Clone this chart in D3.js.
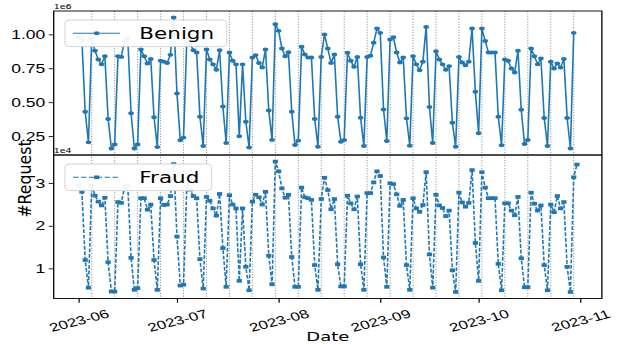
<!DOCTYPE html>
<html>
<head>
<meta charset="utf-8">
<script src="https://cdn.jsdelivr.net/npm/d3@7"></script>
<style>
  html, body { margin: 0; padding: 0; background: #fff; }
  svg { display: block; font-family: "DejaVu Sans", sans-serif; }
</style>
</head>
<body>
<div id="chart"></div>
<script>
// one value per day, starting 2023-06-01
const startDate = "2023-06-01";

// Benign requests per day (x1e6), 2023-06-01 .. 2023-10-30
const benign = [
  0.98, 0.96, 0.43, 0.205, 0.97, 0.88, 0.816, 0.78, 0.84, 0.377,
  0.16, 0.19, 0.84, 0.835, 0.95, 0.97, 0.42, 0.16, 0.19, 0.89,
  0.84, 0.786, 0.82, 0.39, 0.17, 0.806, 0.80, 0.79, 0.85, 1.125,
  0.566, 0.22, 0.24, 0.96, 0.93, 0.884, 0.867, 0.394, 0.178, 0.89,
  0.816, 0.78, 0.74, 0.884, 0.47, 0.20, 0.867, 0.806, 0.78, 0.25,
  0.78, 0.357, 0.167, 0.83, 0.848, 0.79, 0.757, 0.89, 0.44, 0.223,
  1.076, 1.027, 0.897, 0.84, 0.87, 0.43, 0.185, 0.218, 0.91, 0.853,
  0.83, 0.83, 0.377, 0.173, 0.835, 1.0, 0.897, 0.79, 0.853, 0.394,
  0.21, 0.222, 0.865, 0.806, 0.762, 0.835, 0.387, 0.178, 0.835, 0.843,
  0.94, 1.044, 1.012, 0.447, 0.215, 0.963, 0.98, 0.867, 0.794, 0.83,
  0.382, 0.18, 0.84, 0.78, 0.737, 0.80, 1.056, 0.465, 0.20, 0.877,
  0.816, 0.78, 0.74, 0.767, 0.35, 0.172, 0.835, 0.794, 0.774, 0.80,
  1.044, 0.578, 0.272, 1.044, 0.953, 0.867, 0.867, 0.867, 0.394, 0.183,
  0.816, 0.806, 0.75, 0.72, 0.88, 0.445, 0.193, 0.222, 0.897, 0.84,
  0.78, 0.823, 0.385, 0.178, 0.80, 0.75, 0.787, 0.756, 0.82, 0.385,
  0.16, 1.012
];

// Fraud requests per day (x1e4), 2023-06-01 .. 2023-10-31
const fraud = [
  2.95, 2.8, 1.2, 0.55, 2.95, 2.71, 2.57, 2.48, 2.66, 1.15,
  0.46, 0.46, 2.56, 2.54, 2.9, 2.95, 1.25, 0.5, 0.54, 2.65,
  2.65, 2.38, 2.5, 1.2, 0.5, 2.65, 2.49, 2.5, 2.7, 3.45,
  1.75, 0.6, 0.62, 2.95, 2.85, 2.7, 2.65, 1.22, 0.53, 2.68,
  2.59, 2.41, 2.24, 2.75, 1.48, 0.57, 2.72, 2.5, 2.41, 0.71,
  2.41, 1.04, 0.49, 2.57, 2.73, 2.67, 2.5, 2.8, 1.3, 0.63,
  3.51, 3.28, 2.88, 2.66, 2.73, 1.27, 0.57, 0.57, 2.9, 2.67,
  2.65, 2.61, 1.08, 0.5, 2.63, 3.13, 2.84, 2.39, 2.63, 1.1,
  0.58, 0.58, 2.71, 2.53, 2.39, 2.69, 1.1, 0.5, 2.77, 2.77,
  3.02, 3.28, 3.17, 1.26, 0.57, 3.0, 2.98, 2.74, 2.47, 2.61,
  1.08, 0.5, 2.65, 2.41, 2.33, 2.49, 3.26, 1.33, 0.55, 2.73,
  2.48, 2.42, 2.23, 2.36, 0.96, 0.45, 2.78, 2.55, 2.45, 2.54,
  3.31, 1.6, 0.71, 3.26, 2.9, 2.65, 2.65, 2.65, 1.11, 0.49,
  2.53, 2.53, 2.36, 2.25, 2.68, 1.24, 0.56, 0.56, 2.78, 2.52,
  2.36, 2.48, 1.08, 0.49, 2.5, 2.32, 2.7, 2.41, 2.56, 1.04,
  0.45, 3.14, 3.44
];

const seriesNames = ["Benign", "Fraud"];
const benignTicks = [0.25, 0.5, 0.75, 1.0];
const fraudTicks = [1, 2, 3];
const offsetLabels = ["1e6", "1e4"];

// the picture is squashed vertically, so draw in unsquashed units
// and let the viewBox squash everything (text, markers) the same way
const W = 626, H = 345, squash = 0.7;
const VH = H / squash;
const left = 53.7, right = 601.9;
const top1 = 11 / squash, mid = 155 / squash, bottom = 298.5 / squash;
const blue = "#1f77b4";

const t0 = d3.utcParse("%Y-%m-%d")(startDate);
const benignData = benign.map((v, i) => ({ date: d3.utcDay.offset(t0, i), value: v }));
const fraudData = fraud.map((v, i) => ({ date: d3.utcDay.offset(t0, i), value: v }));

// matplotlib style 5% margins
function padded(ext) {
  const p = (ext[1] - ext[0]) * 0.05;
  return [ext[0] - p, ext[1] + p];
}
const dateExt = d3.extent(benignData.concat(fraudData), d => d.date);
const xPad = (dateExt[1] - dateExt[0]) * 0.05;

const x = d3.scaleUtc()
  .domain([new Date(+dateExt[0] - xPad), new Date(+dateExt[1] + xPad)])
  .range([left, right]);
const y1 = d3.scaleLinear().domain(padded(d3.extent(benign))).range([mid, top1]);
const y2 = d3.scaleLinear().domain(padded(d3.extent(fraud))).range([bottom, mid]);

const svg = d3.select("#chart").append("svg")
  .attr("width", W)
  .attr("height", H)
  .attr("viewBox", `0 0 ${W} ${VH}`)
  .attr("preserveAspectRatio", "none");

// weekly dotted lines on every Monday
const mondays = d3.utcMonday.range(t0, d3.utcDay.offset(dateExt[1], 1));
svg.append("g").selectAll("line")
  .data(mondays)
  .join("line")
  .attr("x1", d => x(d)).attr("x2", d => x(d))
  .attr("y1", top1).attr("y2", bottom)
  .attr("stroke", "#707070")
  .attr("stroke-width", 1)
  .attr("stroke-dasharray", "1.4,2.4");

// Benign panel
const line1 = d3.line().x(d => x(d.date)).y(d => y1(d.value));
svg.append("path")
  .datum(benignData)
  .attr("fill", "none")
  .attr("stroke", blue)
  .attr("stroke-width", 1.6)
  .attr("d", line1);
svg.append("g").selectAll("circle")
  .data(benignData)
  .join("circle")
  .attr("cx", d => x(d.date))
  .attr("cy", d => y1(d.value))
  .attr("r", 2.8)
  .attr("fill", blue);

// Fraud panel
const line2 = d3.line().x(d => x(d.date)).y(d => y2(d.value));
svg.append("path")
  .datum(fraudData)
  .attr("fill", "none")
  .attr("stroke", blue)
  .attr("stroke-width", 1.6)
  .attr("stroke-dasharray", "5.5,2.4")
  .attr("d", line2);
const sq = 5.2;
svg.append("g").selectAll("rect")
  .data(fraudData)
  .join("rect")
  .attr("x", d => x(d.date) - sq / 2)
  .attr("y", d => y2(d.value) - sq / 2)
  .attr("width", sq)
  .attr("height", sq)
  .attr("fill", blue);

// axes
function styleAxis(g, size) {
  g.select(".domain").remove();
  g.selectAll(".tick line").attr("stroke", "#000").attr("stroke-width", 1.2);
  g.selectAll(".tick text").attr("fill", "#000").attr("font-size", size);
}

svg.append("g")
  .attr("transform", `translate(${left},0)`)
  .call(d3.axisLeft(y1).tickValues(benignTicks).tickFormat(d3.format(".2f")).tickSize(5).tickPadding(3.5))
  .call(styleAxis, 17.5);

svg.append("g")
  .attr("transform", `translate(${left},0)`)
  .call(d3.axisLeft(y2).tickValues(fraudTicks).tickFormat(d3.format("d")).tickSize(5).tickPadding(3.5))
  .call(styleAxis, 17.5);

const xAxis = svg.append("g")
  .attr("transform", `translate(0,${bottom})`)
  .call(d3.axisBottom(x).ticks(d3.utcMonth.every(1)).tickFormat(d3.utcFormat("%Y-%m")).tickSize(6))
  .call(styleAxis, 17);
xAxis.selectAll(".tick text")
  .attr("y", null)
  .attr("dy", "0.35em")
  .attr("text-anchor", "middle")
  .attr("transform", `translate(0,${458 - bottom}) rotate(-20)`);

// frames
[[top1, mid], [mid, bottom]].forEach(([a, b]) => {
  svg.append("rect")
    .attr("x", left).attr("y", a)
    .attr("width", right - left).attr("height", b - a)
    .attr("fill", "none")
    .attr("stroke", "#000")
    .attr("stroke-width", 1.3);
});

// offset texts
svg.append("text").attr("x", left).attr("y", top1 - 3)
  .attr("font-size", 9.5).text(offsetLabels[0]);
svg.append("text").attr("x", left).attr("y", mid - 2.5)
  .attr("font-size", 9.5).text(offsetLabels[1]);

// legends
function legend(y0, w, name, dashed, marker) {
  const g = svg.append("g");
  const h = 38;
  g.append("rect")
    .attr("x", 65).attr("y", y0)
    .attr("width", w).attr("height", h)
    .attr("rx", 4).attr("ry", 5)
    .attr("fill", "#fff").attr("fill-opacity", 0.93)
    .attr("stroke", "#cccccc").attr("stroke-width", 1);
  const cy = y0 + h / 2;
  g.append("line")
    .attr("x1", 73).attr("x2", 120)
    .attr("y1", cy).attr("y2", cy)
    .attr("stroke", blue).attr("stroke-width", 1.6)
    .attr("stroke-dasharray", dashed ? "5.5,2.4" : null);
  if (marker === "circle") {
    g.append("circle").attr("cx", 96.7).attr("cy", cy).attr("r", 2.8).attr("fill", blue);
  } else {
    g.append("rect").attr("x", 96.7 - sq / 2).attr("y", cy - sq / 2)
      .attr("width", sq).attr("height", sq).attr("fill", blue);
  }
  g.append("text")
    .attr("x", 139.3).attr("y", cy + 7.8)
    .attr("font-size", 21.5)
    .attr("fill", "#000")
    .text(name);
}
legend(20 / squash, 161.7, seriesNames[0], false, "circle");
legend(164 / squash, 146.7, seriesNames[1], true, "square");

// axis labels
svg.append("text")
  .attr("x", (left + right) / 2).attr("y", 341.5 / squash)
  .attr("text-anchor", "middle")
  .attr("font-size", 18)
  .text("Date");

// the y label is not squashed like the rest, so stretch it back along its length
svg.append("text")
  .attr("transform", `translate(30.5,${179 / squash}) rotate(-90) scale(1.25,1)`)
  .attr("text-anchor", "middle")
  .attr("font-size", 18)
  .text("#Request");
</script>
</body>
</html>
